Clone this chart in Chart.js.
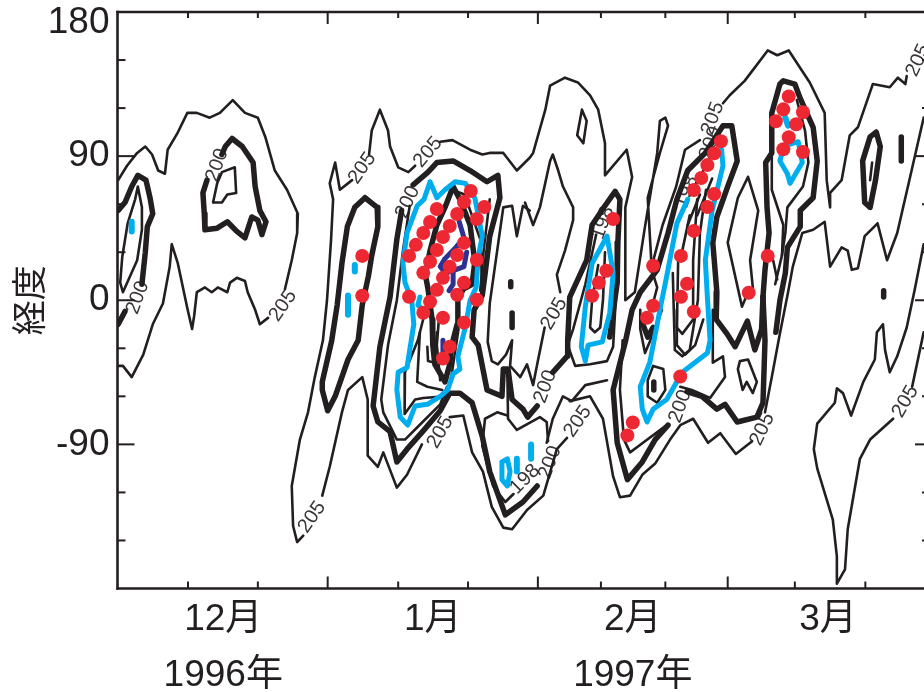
<!DOCTYPE html>
<html>
<head>
<meta charset="utf-8">
<title>経度</title>
<script src="https://cdn.jsdelivr.net/npm/chart.js@4/dist/chart.umd.js"></script>
<style>
  html, body { margin: 0; padding: 0; background: #fff; }
  canvas { display: block; }
</style>
</head>
<body>
<canvas id="chart" width="924" height="692"></canvas>
<script>
// x = days after 1 Dec 1996, y = longitude in degrees. Each contour is a list of [day, lon]
const monthDays = [15.6, 46.5, 76, 104.8];
const monthLabels = [['12月', '1996年'], ['1月', ''], ['2月', '1997年'], ['3月', '']];
const lonLabelValues = [173, 90, 0, -90];
const lonLabels = ['180', '90', '0', '-90'];
const minorDayTicks = [10.4, 20.7, 41.4, 51.7, 71.3, 80.8, 99.9, 110.3];
const majorDayTicks = [31, 62, 90];
const minorLonTicks = [150, 120, 60, 30, -30, -60, -120, -150];
const majorLonTicks = [90, 0, -90];

const thinA = [[0.1,75],[1.4,84],[2.9,92],[4.1,96],[5.1,91],[6,81],[7,79],[7.4,94],[8.8,104],[10.3,117],[11.7,117],[13.6,114],[15.1,117],[17,125],[18.8,117],[20.7,114],[21.8,102],[23.2,81],[25,69],[26.6,54],[26.5,42],[25.7,25],[24.7,7]];
const thinB = [[22.2,-11],[21,-15],[20.3,-6],[19.2,5],[18.8,12],[17.6,14],[16.6,11],[16.2,5],[14.8,8],[13.9,5],[12.9,8],[11.7,5],[11.3,-10],[11,-18],[10.3,-5],[8.9,23],[8,35],[7.7,21],[6.7,-2],[5.2,-15],[3.8,-34],[2.1,-48],[0.8,-41],[0.1,-41]];
const thinC = [[3,71],[3.6,58],[3.6,44],[2.9,25],[0.8,5],[0.4,11],[0.7,27],[1.5,48],[2.6,63],[3,71]];
const thinD = [[14.1,61],[14.7,73],[15.4,80],[17.3,83],[17.5,67],[16.2,66],[15.4,61],[14.1,61]];
const thinE = [[27.4,-147],[26.5,-151],[25.9,-141],[25.7,-116],[26.9,-87],[28.1,-70],[29.1,-48],[30.3,-25],[30.9,0],[31.5,38],[31.8,63],[31.3,73],[32.1,86],[32.8,69],[34.6,75]];
const thinF = [[30.2,-122],[31.3,-104],[33.1,-70],[34,-56],[36.1,-48],[36.9,-62],[36.9,-97],[38.4,-104],[39.2,-95],[41.2,-117],[42.7,-109],[44.9,-90]];
const thinG = [[49,-73],[51,-72],[52.3,-95],[53.9,-107],[55.2,-129],[56.9,-142],[58.2,-143],[60.4,-131],[62.8,-122],[64.8,-93],[66.3,-86]];
const thinH = [[66.7,-63],[69.7,-60],[71.6,-74],[73.1,-110],[74.1,-123],[75.6,-122],[77.4,-109],[79.3,-102],[81.5,-87],[83,-78],[84.9,-74],[87.1,-89],[88.9,-83],[91.2,-96],[93.6,-88]];
const thinI = [[37.1,91],[37.5,106],[38.7,119],[39.9,106],[40.2,96],[41.4,83],[42.9,80],[43.9,84]];
const thinJ = [[47.6,99],[49.4,100],[52,94],[53.8,91],[54.9,92],[56.9,92],[58.9,81],[60.8,89],[61.3,92],[63.1,119],[63.8,134],[66,139],[67.9,136],[69.7,128],[70.9,119],[71.9,98],[71.9,78],[75.1,94],[75.9,77],[74.9,58],[74.9,19],[74.9,0],[76.3,5],[77.8,46],[79.6,92],[80,112],[80.8,114],[81.2,109],[80,92],[78.2,64],[78.8,19],[79.6,8],[79.1,0]];
const thinK = [[68.5,119],[67.8,103],[68.7,98],[69.2,112],[68.5,119]];
const thinL = [[89.3,123],[90.3,128],[92.5,137],[95.9,156],[97.3,153],[99,156],[102.1,136],[104.3,117],[104.6,75],[105.1,58],[105.1,67],[106.8,75],[108,103],[109.2,108],[111.4,135],[113.9,133],[115.1,139],[116.2,135],[116.4,140]];
const thinM = [[118.9,114],[116.9,77],[115,42],[113.5,25],[112.1,48],[111.4,45],[110.2,40],[109.2,20],[108.3,19],[107.7,31],[106.8,33],[105.1,21],[104.3,49],[102.6,44],[101,42],[99.6,21],[98.9,5],[97.6,-23],[96.5,-48],[95.5,-70]];
const thinN = [[118.9,35],[117.6,7],[116.4,-17],[115,-35],[113.9,-45],[113.2,-31],[112.9,-15],[112,-20],[111.7,-37],[110,-51],[108.2,-72],[107,-58],[106.1,-55],[105.8,-64],[103.2,-77],[102.7,-93],[103.2,-105],[105.5,-137],[106.1,-160],[106.1,-177],[107.3,-168],[107.7,-143],[108.8,-116],[109.5,-99],[111,-87],[114.4,-74]];
const thinO = [[117.2,-54],[118.9,-20]];
const thinP = [[100.2,125],[101.4,106],[101.9,86],[101.1,71],[98.8,58],[98.5,42],[98,28],[97,10]];
const thinQ = [[96.5,91],[96.5,69],[98.2,47],[98,28]];
const thinR = [[96.7,25],[97.3,13]];
const thinS = [[43.1,59],[42.1,31],[41.2,0],[39.9,-28],[38.9,-62],[39.2,-70],[41.2,-87],[42.4,-87],[45,-76],[47.6,-65],[48.6,-54]];
const thinT = [[45.8,0],[44.3,-25],[42.4,-45],[42.3,-59],[42.4,-71],[43.9,-62],[45.1,-61],[48.3,-60]];
const thinU = [[44.6,-20],[44.2,-51],[45.7,-54],[47.9,-56]];
const thinV = [[45.7,-29],[45.8,-38],[46.8,-39],[47.1,-20]];
const thinW = [[60.8,56],[59.8,59],[58.9,40],[58.2,59],[56.9,58],[56,31],[54.9,-2],[54.6,-26],[55.2,-38],[56.1,-40],[57.3,-34],[58.2,-25],[57.9,-41],[59.4,-48],[60.4,-40],[61.3,-53],[61.9,-40],[63,-17]];
const thinX = [[60.1,61],[61.3,47],[62.3,58],[63.8,87],[64.2,91],[65,81],[65.7,71],[67.2,58],[67.2,50],[66,31],[64.8,16],[65.3,5]];
const thinY = [[63.3,-89],[64.2,-74],[65.7,-60],[67,-63],[69,-53],[72.2,-50]];
const thinZ = [[57.5,-45],[57.6,-74],[58.9,-81],[62.3,-73],[63.3,-76],[63.5,-88]];
const thinAa = [[58.4,-121],[57.2,-126],[55.4,-116],[53.8,-91],[54.2,-74],[56,-70],[57.5,-72]];
const thinAb = [[70.6,41],[69,10],[67.2,-18],[66.4,-28],[67.5,-41],[69.7,-40],[72.2,-38],[73.1,-29],[73.4,-6],[73.8,19]];
const thinAc = [[71.9,30],[71.6,0],[71.2,-17],[70.4,-20],[69.7,-17],[70,0],[70.9,22]];
const thinAd = [[79,-41],[80.5,-43],[80.8,-56],[79.6,-64],[78.2,-60],[78.2,-50],[79,-41]];
const thinAe = [[77.1,-6],[77.1,-18],[77.8,-33],[79.3,-18],[80.3,-6]];
const thinAf = [[82.5,-6],[82.5,-28],[83.7,-34],[85.2,-28],[86.4,-12]];
const thinAg = [[87.8,-6],[87.8,-39],[89.3,-35],[89.6,-48],[87.4,-61],[84.7,-56],[83,-54]];
const thinAh = [[91.8,-38],[93,-37],[94.3,-51],[93.7,-58],[92.8,-51],[92.2,-56],[91.5,-43],[91.8,-38]];
const thinAi = [[81.9,17],[82.2,-31],[83.3,-35],[84.4,-31],[85.6,0],[85.9,42],[86.8,69]];
const thinAj = [[82.7,27],[82.5,-17],[83.3,-21],[84.9,-12],[84.9,25],[85.5,63]];
const thinAk = [[93,77],[91.5,64],[90,36],[92.1,-4],[93,5],[93.7,8],[93.3,25],[94.5,56],[93,77]];
const thinAl = [[74.5,-25],[74.1,-56],[74.7,-87],[75.6,-95],[77.5,-89],[81,-78]];
const thinAm = [[85.9,100],[83.7,94],[82.4,71],[80.4,47],[78.6,18]];
const thinAn = [[111.3,86],[111,75]];
const thinAo = [[47.6,53],[49.3,69],[51.2,66],[53.5,38],[53.8,9]];
const thinAp = [[54.9,63],[54,31],[53.5,6]];
const thinAq = [[47.6,-50],[47.1,-28],[47.4,-12]];
const thinAr = [[50.3,-18],[49.3,-46]];
const thinAs = [[84.4,66],[86.4,81]];
const thinAt = [[85.5,53],[87.7,76]];
const thinAu = [[84.1,47],[85.9,66]];
const thinAv = [[83.3,31],[84.4,53]];

const thickA = [[0.1,56],[1.1,61],[2.1,71],[3,78],[4.2,75],[4.8,64],[5.2,54],[4.4,46],[4.1,30],[3.6,10]];
const thickB = [[1.1,-7],[0.1,-15]];
const thickC = [[13.2,75],[12.6,67],[12.8,54],[12.9,44],[14.7,45],[16.2,49],[17.6,43],[18.8,39],[19.8,52],[20.7,50],[21.3,41],[21.9,49],[21,56],[20.3,71],[20,86],[18.4,96],[16.9,101],[15.9,96],[15.4,91]];
const thickD = [[36.5,64],[38.3,58],[38.4,46],[37.5,28],[37,15],[36.1,-3],[35.5,-25],[34,-37],[32.1,-60],[31,-69],[30.2,-56],[30.2,-51],[31.6,-25],[32.4,-3],[33.1,23],[33.9,46],[35,58],[36.5,64]];
const thickE = [[41.9,56],[41.2,38],[40.2,2],[38.7,-29],[37.7,-66],[38.4,-76],[40.2,-82],[41.2,-101],[42.7,-93],[45,-82],[47.6,-69],[49,-58],[50.5,-58],[52.3,-64],[53.8,-85],[54.9,-107],[57.2,-134],[59.8,-126],[61.9,-116]];
const thickF = [[43.6,72],[45.8,80],[47.1,86],[49.5,87],[52,81],[54.5,74],[56.1,78],[56.4,64],[54.9,40],[54.2,16],[53.8,3],[52.6,-6],[52.3,-23],[53.2,-28],[54.5,-56],[56.7,-60],[56.9,-43],[57.6,-43],[58.2,-62],[59.8,-68],[60.5,-73],[61.9,-66]];
const thickG = [[49.5,71],[48.4,59],[47.1,47],[46.1,31],[45.4,16],[45.8,7],[46.4,-12],[46.5,-28],[46.8,-40],[48.3,-51],[49,-40],[49.3,-28],[50.1,-15],[50.2,0],[51,7],[52.3,10],[52.7,24],[52,47],[50.5,63],[49.5,71]];
const thickH = [[64.2,-45],[66.3,-35],[66.4,-25],[66.7,2],[69.2,25],[70,47],[71.9,59],[73.4,68],[74.1,63],[73.8,36],[73.7,11],[72.6,-23]];
const thickI = [[81.2,-78],[79.3,-87],[77.4,-101],[75.2,-112],[73.7,-89],[73.1,-56],[74.9,-26],[75.9,-6],[77.1,5],[79.6,19],[81.2,42],[82.5,63],[84.1,81],[86.7,92],[89.3,109],[90.6,109],[91.4,87],[90,71],[88.4,52],[87.8,36],[88.4,5],[88.3,-12],[89.9,-21],[91.1,-29],[92.9,-13],[94,-31],[95,-18],[95.2,2]];
const thickJ = [[84,-57],[86.2,-60],[88.4,-68],[89.6,-65],[91.4,-76],[94.3,-73],[95.2,-64],[95.5,-25],[95.2,2]];
const thickK = [[95.2,2],[95.5,19],[96.1,42],[95.8,58],[95.6,86],[96.5,92],[96.5,117],[97.7,135],[98.2,137],[99.9,135],[100.7,126],[102.6,108],[103.2,87],[102.6,64],[100.7,56],[100.7,46],[98.8,33],[98.5,17],[97.7,0],[97.1,-20]];
const thickL = [[111.9,105],[112.5,96],[111.8,75],[111,58],[110.2,61],[109.9,87],[111,102],[111.9,105]];
const thickM = [[58.2,-8],[58.2,-17]];
const thickN = [[58,11.5],[58,8.5]];
const thickO = [[79.1,-51],[79.1,-56]];
const thickP = [[77.4,-14],[78.2,-23],[79,-17]];
const thickQ = [[115.6,102],[115.6,87]];
const thickR = [[113,6],[113,2]];

const blueA = [[46.1,74],[47.1,64],[48.3,69],[49.8,74],[51.3,73],[52.7,64],[53.8,40],[53.2,27],[52.9,8],[52,0],[51.3,-17],[50.2,-35],[50.5,-43],[49.5,-46],[48.7,-56],[47.6,-60],[45.7,-65],[43.9,-66],[42.8,-78],[41.7,-73],[41.2,-56],[41.4,-45],[42.7,-42],[43.1,-31],[43.7,-15],[43.4,0],[42.4,11],[42.1,23],[42.7,42],[44.2,59],[45.2,63],[46.1,74]];
const blueB = [[56.7,-101],[57.5,-99],[57.9,-107],[57.5,-116],[56.7,-112],[56.7,-101]];
const blueC = [[58.9,-99],[58.9,-107]];
const blueD = [[61,-90],[61,-99]];
const blueE = [[72.2,40],[70.9,30],[70,23],[69,-4],[68.4,-29],[69,-38],[69.4,-28],[71.5,-26],[72.6,-8],[73.1,17],[72.6,30],[72.2,40]];
const blueF = [[89.1,94],[89.3,84],[87.7,56],[86.7,25],[87,2],[87.4,-25],[87,-33],[83.3,-45],[81,-62],[79,-68],[78.1,-76],[77.4,-68],[77.1,-54],[78.5,-39],[80,-6],[81,15],[82.5,48],[84.1,63]];
const blueG = [[98.9,97],[100.4,99],[101,86],[99.2,73],[98.8,79],[97.7,87],[98.2,95],[98.9,97]];
const blueH = [[98.5,114],[98.9,109]];
const blueI = [[35,22],[35,18]];
const blueJ = [[34,3],[34,-9]];
const blueK = [[2.1,49],[2.1,43]];
const blueL = [[44.6,2],[44.3,-3],[45.1,-6]];

const darkA = [[50.4,49],[51.1,39],[49.9,33],[48.3,26],[47.6,21],[48.4,17],[49.8,19],[51.1,21],[51.5,30]];
const darkB = [[49.5,18],[49.5,10],[48.9,6]];
const darkC = [[48,-25],[48,-33]];

const redDays = [36.1,36.1,43,44,45.1,46.1,47.1,43,45.1,46.1,47.1,48,49,50.1,51.1,52.1,54.1,53,51.1,50.1,49,48,47.1,46.1,45.1,53,51.1,50.1,53,48,51.1,49,48,
  73.1,72.1,71,70,79,79,78.1,83.1,85,87,88,85,86.1,87,88,89,84,83.1,85,93.1,95.9,76,75.2,83,
  99,98.2,101.1,97.1,100.1,99,98.2,101.1];
const redLons = [27.7,2.8,27.7,34.6,42,48.9,57,2.2,17.1,24,31.4,39.5,46.4,53.9,61.3,68.2,58.2,50.7,35.8,28.3,20.9,14,6.5,-0.9,-7.8,25.2,10.9,3.4,0.3,-10.9,-14,-29,-36.4,
  50.7,18.4,10.9,2.8,21.5,-3.4,-10.9,27.7,43.3,58.2,66.3,68.8,76.3,84.4,91.8,99.3,10.3,2.2,-7.2,4.7,27.7,-76.3,-84.4,-47.6,
  127.3,119.2,117.4,111.8,109.9,101.8,94.3,92.5];

const contourTexts = ['205','205','205','205','200','205','200','200','198','200','200','205','205','205','205','205','205','200','200','198','198'];
const contourDays = [28.7,24.4,36.1,45.8,42.8,47.6,3,14.7,60.1,63.8,63.1,67.9,64.4,116.2,95.1,118.1,87.8,87.5,83,71.6,84];
const contourLons = [-135.4,-3.4,82.5,92.5,61.3,-82.5,1.6,84.4,-111.8,-101.2,-53.9,-75.7,-8.4,-63.2,-80.6,149.8,113.6,98.1,-66.3,48.3,67.6];
const contourAngles = [-55,-55,-55,-50,-65,-60,-70,-70,-45,-70,-70,-55,-60,-60,-65,-65,-70,-70,-70,-70,-70];

const thinLines = [thinA,thinB,thinC,thinD,thinE,thinF,thinG,thinH,thinI,thinJ,thinK,thinL,thinM,thinN,thinO,thinP,thinQ,thinR,thinS,thinT,thinU,thinV,thinW,thinX,thinY,thinZ,thinAa,thinAb,thinAc,thinAd,thinAe,thinAf,thinAg,thinAh,thinAi,thinAj,thinAk,thinAl,thinAm,thinAn,thinAo,thinAp,thinAq,thinAr,thinAs,thinAt,thinAu,thinAv];
const thickLines = [thickA,thickB,thickC,thickD,thickE,thickF,thickG,thickH,thickI,thickJ,thickK,thickL,thickM,thickN,thickO,thickP,thickQ,thickR];
const blueLines = [blueA,blueB,blueC,blueD,blueE,blueF,blueG,blueH,blueI,blueJ,blueK,blueL];
const darkLines = [darkA,darkB,darkC];

const ink = '#231f20';
const font = "'Liberation Sans','Noto Sans CJK JP',sans-serif";

function lineSet(points, color, width) {
    return {
        data: points.map(p => ({ x: p[0], y: p[1] })),
        showLine: true,
        borderColor: color,
        borderWidth: width,
        pointRadius: 0,
        borderJoinStyle: 'round',
        borderCapStyle: 'round'
    };
}

// first dataset is painted last, so the dots go first and the thin lines last
const datasets = [{
    data: redDays.map((d, i) => ({ x: d, y: redLons[i] })),
    showLine: false,
    pointRadius: 7,
    pointBackgroundColor: '#ed2833',
    pointBorderWidth: 0
}];
blueLines.forEach(l => datasets.push(lineSet(l, '#00aeef', l.length === 2 ? 6 : 5)));
darkLines.forEach(l => datasets.push(lineSet(l, '#2e3192', 5)));
thickLines.forEach(l => datasets.push(lineSet(l, ink, 5.5)));
thinLines.forEach(l => datasets.push(lineSet(l, ink, 2.6)));

// ticks point inwards on all four sides, and the contour values sit along the lines
const framePlugin = {
    id: 'frame',
    beforeDatasetsDraw(chart) {
        const c = chart.ctx, x = chart.scales.x, y = chart.scales.y;
        c.save();
        c.fillStyle = '#3a3637';
        c.font = "20px 'Liberation Sans'";
        c.textAlign = 'center';
        c.textBaseline = 'middle';
        contourTexts.forEach((t, i) => {
            c.save();
            c.translate(x.getPixelForValue(contourDays[i]), y.getPixelForValue(contourLons[i]));
            c.rotate(contourAngles[i] * Math.PI / 180);
            c.fillText(t, 0, 0);
            c.restore();
        });
        c.restore();
    },
    afterDraw(chart) {
        const c = chart.ctx, a = chart.chartArea, x = chart.scales.x, y = chart.scales.y;
        const tick = (x1, y1, x2, y2) => { c.beginPath(); c.moveTo(x1, y1); c.lineTo(x2, y2); c.stroke(); };
        c.save();
        c.strokeStyle = ink;
        c.lineWidth = 2.6;
        c.lineCap = 'square';
        tick(a.left, a.top, a.right, a.top);
        tick(a.left, a.top, a.left, a.bottom);
        tick(a.left, a.bottom, a.right, a.bottom);
        c.lineCap = 'butt';
        c.lineWidth = 2;
        minorDayTicks.forEach(v => {
            const p = x.getPixelForValue(v);
            tick(p, a.bottom, p, a.bottom - 7);
            tick(p, a.top, p, a.top + 6);
        });
        majorDayTicks.forEach(v => {
            const p = x.getPixelForValue(v);
            tick(p, a.bottom, p, a.bottom - 12);
            tick(p, a.top, p, a.top + 12);
        });
        minorLonTicks.forEach(v => {
            const p = y.getPixelForValue(v);
            tick(a.left, p, a.left + 8, p);
            tick(a.right, p, a.right - 2, p);
        });
        majorLonTicks.forEach(v => {
            const p = y.getPixelForValue(v);
            tick(a.left, p, a.left + 17, p);
            tick(a.right, p, a.right - 9, p);
        });
        c.restore();
    }
};

new Chart(document.getElementById('chart'), {
    type: 'scatter',
    data: { datasets: datasets },
    plugins: [framePlugin],
    options: {
        responsive: false,
        animation: false,
        layout: { autoPadding: false, padding: { top: 12 } },
        plugins: { legend: { display: false }, tooltip: { enabled: false } },
        scales: {
            x: {
                type: 'linear',
                min: 0,
                max: 118.95,
                border: { display: false },
                grid: { display: false, drawTicks: false },
                afterBuildTicks: s => { s.ticks = monthDays.map(v => ({ value: v })); },
                afterFit: s => { s.height = 103.5; s.paddingLeft = 0; s.paddingRight = 0; },
                ticks: {
                    autoSkip: false,
                    maxRotation: 0,
                    padding: 3,
                    color: ink,
                    font: { family: font, size: 37, lineHeight: 1.51 },
                    callback: v => monthLabels[monthDays.indexOf(v)]
                }
            },
            y: {
                type: 'linear',
                min: -180,
                max: 180,
                border: { display: false },
                grid: { display: false, drawTicks: false },
                afterBuildTicks: s => { s.ticks = lonLabelValues.map(v => ({ value: v })); },
                afterFit: s => { s.width = 117.5; s.paddingTop = 0; s.paddingBottom = 0; },
                ticks: {
                    autoSkip: false,
                    padding: 8,
                    color: ink,
                    font: { family: font, size: 37 },
                    callback: v => lonLabels[lonLabelValues.indexOf(v)]
                },
                title: {
                    display: true,
                    text: '経度',
                    color: ink,
                    padding: { top: 8, bottom: 0 },
                    font: { family: "'Noto Sans CJK JP'", size: 35 }
                }
            }
        }
    }
});
</script>
</body>
</html>
